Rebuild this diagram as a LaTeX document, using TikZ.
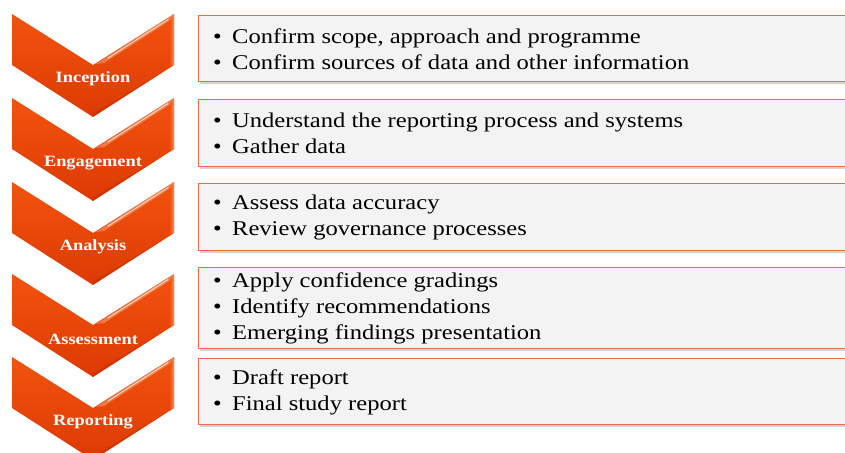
\documentclass[tikz,border=0pt]{standalone}
\usepackage{graphicx}
\usepackage{fontspec}
\setmainfont{Liberation Serif}
\usetikzlibrary{shadows}

\definecolor{chevtop}{HTML}{F3530F}
\definecolor{chevbot}{HTML}{DC3A03}
\definecolor{chevlight}{HTML}{FA9A6C}
\definecolor{boxline}{HTML}{F06A48}
\definecolor{boxfill}{HTML}{F3F3F3}

% horizontally widened text
\newcommand\stretchx[1]{\scalebox{1.17}[1]{#1}}
% one bulleted line
\newcommand\bul[1]{\stretchx{\makebox[16.2pt][l]{\textbullet}#1}}

% chevron: name, top offset, label
\newcommand\chevron[3]{%
  \begin{scope}[shift={(0,#2)}]
    \path[top color=chevtop, bottom color=chevbot]
      (12,0) -- (93,51) -- (174,0) -- (174,51) -- (93,103) -- (12,51) -- cycle;
    % bevel on the right arm
    \fill[chevlight, opacity=0.6]
      (96,50) -- (174,0) -- (170,6.5) -- (104,49) -- cycle;
    \path[left color=chevtop, right color=chevlight, opacity=0.85]
      (170,6.5) -- (174,0) -- (174,51) -- (170,53.6) -- cycle;
    \draw[white, line width=0.9pt, opacity=0.75, line cap=round]
      (108,44) -- (168,5.6);
    \fill[chevbot!75!black, opacity=0.3]
      (174,51) -- (93,103) -- (93,99.5) -- (170,53.6) -- cycle;
    \node[steplabel] (#1) at (93,65) {\stretchx{#3}};
  \end{scope}}

\begin{document}
\begin{tikzpicture}[x=1pt, y=-1pt,
  itembox/.style={draw=boxline, line width=1.3pt, fill=boxfill,
    anchor=north west, minimum width=670pt, inner sep=0pt,
    drop shadow={shadow xshift=1.5pt, shadow yshift=-2.5pt, opacity=0.3, fill=black!55}},
  itemtext/.style={anchor=west, align=left, inner sep=0pt,
    font=\fontsize{21}{26}\selectfont},
  steplabel/.style={text=white, inner sep=0pt,
    font=\bfseries\fontsize{15.7}{18}\selectfont}
]
\useasboundingbox (0,0) rectangle (845,452);
\clip (0,0) rectangle (845,452);

% phase chevrons
\chevron{inception}{14}{Inception}
\chevron{engagement}{98}{Engagement}
\chevron{analysis}{182}{Analysis}
\chevron{assessment}{274}{Assessment}
\chevron{reporting}{357}{Reporting}

% activity boxes
\node[itembox, minimum height=66pt] (b1) at (198,15) {};
\node[itembox, minimum height=67pt] (b2) at (198,99) {};
\node[itembox, minimum height=67pt] (b3) at (198,183) {};
\node[itembox, minimum height=81pt] (b4) at (198,267) {};
\node[itembox, minimum height=66pt] (b5) at (198,358) {};

\node[itemtext] (t1) at (213,49) {\bul{Confirm scope, approach and programme}\\
  \bul{Confirm sources of data and other information}};
\node[itemtext] (t2) at (213,133) {\bul{Understand the reporting process and systems}\\
  \bul{Gather data}};
\node[itemtext] (t3) at (213,217.5) {\bul{Assess data accuracy}\\
  \bul{Review governance processes}};
\node[itemtext] (t4) at (213,308) {\bul{Apply confidence gradings}\\
  \bul{Identify recommendations}\\
  \bul{Emerging findings presentation}};
\node[itemtext] (t5) at (213,392) {\bul{Draft report}\\
  \bul{Final study report}};
\end{tikzpicture}
\end{document}
